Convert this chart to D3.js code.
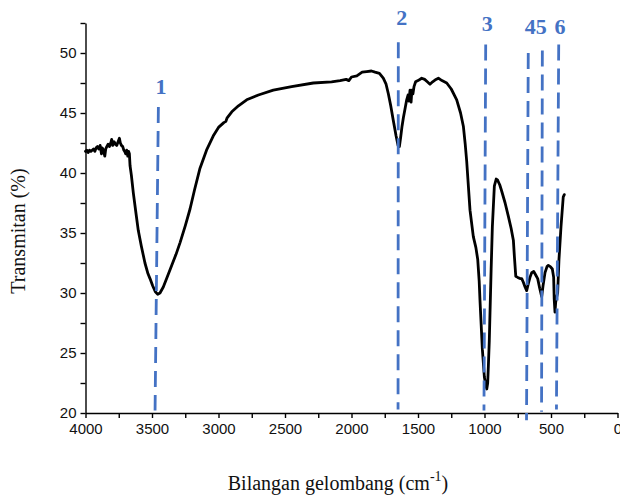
<!DOCTYPE html>
<html>
<head>
<meta charset="utf-8">
<script src="https://cdn.jsdelivr.net/npm/d3@7"></script>
<style>
  html, body { margin: 0; padding: 0; background: #fff; }
  svg { display: block; }
  .tick text { font-family: "Liberation Sans", Arial, sans-serif; font-size: 15px; fill: #111; }
  .axis path, .axis line { stroke: #000; stroke-width: 1.4; }
  .title { font-family: "Liberation Serif", "Times New Roman", serif; font-size: 20px; fill: #111; }
  .peak-label { font-family: "Liberation Serif", "Times New Roman", serif; font-size: 22px; font-weight: bold; fill: #4472C4; }
</style>
</head>
<body>
<svg id="chart" width="620" height="498"></svg>
<script>
// FTIR spectrum: wavenumber (cm^-1) and transmittance (%)
const wavenumber = [
  4000, 3990, 3980, 3970, 3960, 3950, 3940, 3930, 3920, 3910, 3900, 3890, 3880, 3875, 3865, 3855,
  3848, 3840, 3830, 3820, 3810, 3803, 3795, 3785, 3775, 3765, 3755, 3745, 3738, 3730, 3720, 3712,
  3705, 3698, 3690, 3682, 3676, 3670, 3665, 3655, 3640, 3620, 3603, 3580, 3553, 3530, 3515, 3495,
  3475, 3457, 3440, 3415, 3390, 3352, 3320, 3289, 3250, 3214, 3180, 3139, 3090, 3039, 3000, 2960,
  2945, 2935, 2900, 2850, 2788, 2700, 2588, 2450, 2287, 2150, 2086, 2040, 2020, 2000, 1960, 1920,
  1886, 1850, 1823, 1790, 1761, 1740, 1723, 1705, 1686, 1665, 1650, 1640, 1630, 1620, 1610, 1595,
  1585, 1575, 1568, 1560, 1552, 1546, 1538, 1530, 1518, 1500, 1472, 1450, 1430, 1410, 1390, 1365,
  1347, 1320, 1284, 1250, 1209, 1180, 1159, 1145, 1134, 1109, 1084, 1065, 1051, 1040, 1034, 1016,
  1001, 990, 983, 976, 971, 964, 958, 950, 941, 926, 912, 901, 885, 871, 845, 821,
  800, 783, 775, 765, 750, 733, 720, 708, 695, 683, 670, 658, 645, 630, 615, 600,
  585, 570, 560, 545, 530, 520, 505, 490, 480, 476, 470, 465, 457, 450, 440, 425,
  408, 400
];
const transmittance = [
  41.8, 41.9, 41.7, 41.9, 41.8, 41.9, 42.0, 41.8, 42.1, 42.2, 42.0, 42.3, 41.6, 42.1, 41.9, 41.4,
  42.0, 42.2, 42.4, 42.2, 42.5, 42.8, 42.3, 42.6, 42.4, 42.3, 42.6, 42.9, 42.5, 42.3, 42.2, 41.9,
  41.8, 41.6, 41.9, 41.4, 41.8, 41.6, 40.6, 39.8, 38.3, 36.6, 35.2, 33.9, 32.5, 31.6, 31.2, 30.6,
  30.1, 29.9, 30.0, 30.5, 31.2, 32.3, 33.2, 34.2, 35.6, 37.0, 38.6, 40.4, 41.9, 43.1, 43.8, 44.2,
  44.3, 44.6, 45.1, 45.6, 46.1, 46.5, 46.9, 47.2, 47.5, 47.6, 47.7, 47.8, 47.7, 48.0, 48.1, 48.4,
  48.45, 48.5, 48.4, 48.3, 47.9, 47.4, 46.6, 45.6, 44.4, 43.1, 42.3, 42.2, 43.0, 43.9, 44.6, 45.5,
  46.1, 46.5, 46.0, 46.9, 45.9, 46.9, 46.6, 47.2, 47.6, 47.7, 47.9, 47.8, 47.6, 47.4, 47.6, 47.8,
  47.9, 47.7, 47.5, 47.0, 46.1, 45.0, 43.9, 42.4, 41.0, 36.9, 34.7, 33.8, 32.8, 31.0, 29.4, 25.3,
  23.0, 22.3, 22.0, 22.5, 23.9, 26.0, 28.6, 32.0, 35.5, 38.9, 39.5, 39.4, 39.0, 38.5, 37.5, 36.4,
  35.4, 34.4, 33.0, 31.4, 31.3, 31.2, 31.2, 30.9, 30.5, 30.2, 30.8, 31.3, 31.7, 31.8, 31.5, 31.2,
  30.4, 29.7, 30.6, 31.7, 32.2, 32.3, 32.2, 32.0, 31.3, 29.5, 28.4, 29.2, 29.7, 30.0, 32.8, 35.5,
  38.0, 38.2
];

// Tick values
const xMajorTicks = [4000, 3500, 3000, 2500, 2000, 1500, 1000, 500, 0];
const xMinorTicks = [3750, 3250, 2750, 2250, 1750, 1250, 750, 250];
const yMajorTicks = [20, 25, 30, 35, 40, 45, 50];
const yMinorTicks = [22.5, 27.5, 32.5, 37.5, 42.5, 47.5, 52.5];

// Band markers: dashed guide from (wnTop, tTop) down to (wnBottom, tBottom)
const markerWnTop    = [3452, 1648, 991, 671, 565, 442];
const markerWnBottom = [3477, 1650, 1004, 684, 571, 459];
const markerTTop     = [45.5, 50.9, 50.7, 50.0, 50.2, 50.7];
const markerTBottom  = [20.2, 20.3, 20.2, 19.4, 20.1, 20.3];

// Band numbers
const peakLabels   = ["1", "2", "3", "45", "6"];
const peakLabelWn  = [3432, 1622, 979, 615, 432];
const peakLabelT   = [47.2, 53.0, 52.5, 52.2, 52.2];

const svg = d3.select("#chart");

const x = d3.scaleLinear().domain([4000, 0]).range([85.5, 617.5]);
const y = d3.scaleLinear().domain([20, 52.5]).range([413, 23]);

// Axes
const gx = svg.append("g").attr("class", "axis").attr("transform", `translate(0,${y(20)})`);
gx.call(d3.axisBottom(x).tickValues(xMajorTicks).tickFormat(d3.format("d")).tickSize(5).tickPadding(5).tickSizeOuter(0));
const gxm = svg.append("g").attr("class", "axis").attr("transform", `translate(0,${y(20)})`);
gxm.call(d3.axisBottom(x).tickValues(xMinorTicks).tickFormat("").tickSize(5).tickSizeOuter(0));
gxm.select(".domain").remove();

const gy = svg.append("g").attr("class", "axis").attr("transform", `translate(${x(4000)},0)`);
gy.call(d3.axisLeft(y).tickValues(yMajorTicks).tickFormat(d3.format("d")).tickSize(5).tickPadding(4).tickSizeOuter(0));
const gym = svg.append("g").attr("class", "axis").attr("transform", `translate(${x(4000)},0)`);
gym.call(d3.axisLeft(y).tickValues(yMinorTicks).tickFormat("").tickSize(5).tickSizeOuter(0));
gym.select(".domain").remove();

// Spectrum trace
const data = wavenumber.map((w, i) => ({ w, t: transmittance[i] }));
svg.append("path")
  .datum(data)
  .attr("fill", "none")
  .attr("stroke", "#000")
  .attr("stroke-width", 2.8)
  .attr("stroke-linejoin", "round")
  .attr("stroke-linecap", "round")
  .attr("d", d3.line().x(d => x(d.w)).y(d => y(d.t)));

// Dashed band guides
svg.append("g").selectAll("line")
  .data(markerWnTop.map((w, i) => ({ wt: w, wb: markerWnBottom[i], tt: markerTTop[i], tb: markerTBottom[i] })))
  .join("line")
  .attr("x1", d => x(d.wt)).attr("y1", d => y(d.tt))
  .attr("x2", d => x(d.wb)).attr("y2", d => y(d.tb))
  .attr("stroke", "#4472C4")
  .attr("stroke-width", 2.8)
  .attr("stroke-dasharray", "16,8");

// Band numbers
svg.append("g").selectAll("text")
  .data(peakLabels.map((s, i) => ({ s, w: peakLabelWn[i], t: peakLabelT[i] })))
  .join("text")
  .attr("class", "peak-label")
  .attr("x", d => x(d.w)).attr("y", d => y(d.t))
  .attr("text-anchor", "middle")
  .attr("dominant-baseline", "central")
  .text(d => d.s);

// Axis titles
svg.append("text")
  .attr("class", "title")
  .attr("transform", "translate(25,231) rotate(-90)")
  .attr("text-anchor", "middle")
  .text("Transmitan (%)");

const xt = svg.append("text")
  .attr("class", "title")
  .attr("x", 338).attr("y", 490)
  .attr("text-anchor", "middle");
xt.append("tspan").text("Bilangan gelombang (cm");
xt.append("tspan").attr("dy", -9).attr("font-size", 14).text("-1");
xt.append("tspan").attr("dy", 9).text(")");
</script>
</body>
</html>
